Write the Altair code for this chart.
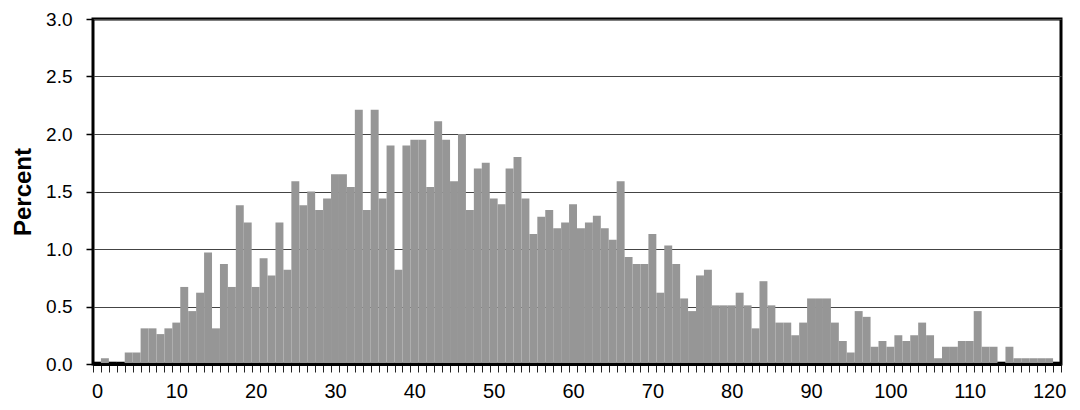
import altair as alt
import pandas as pd

# ---- data ----
bins = list(range(0, 122))
percent = [
    0.02, 0.05, 0.02, 0.02, 0.10, 0.10, 0.31, 0.31, 0.26, 0.31,   # 0-9
    0.36, 0.67, 0.46, 0.62, 0.97, 0.31, 0.87, 0.67, 1.38, 1.23,   # 10-19
    0.67, 0.92, 0.77, 1.23, 0.82, 1.59, 1.38, 1.50, 1.34, 1.44,   # 20-29
    1.65, 1.65, 1.54, 2.21, 1.34, 2.21, 1.44, 1.90, 0.82, 1.90,   # 30-39
    1.95, 1.95, 1.54, 2.11, 1.95, 1.59, 2.00, 1.34, 1.70, 1.75,   # 40-49
    1.44, 1.39, 1.70, 1.80, 1.44, 1.13, 1.28, 1.34, 1.18, 1.23,   # 50-59
    1.39, 1.18, 1.23, 1.29, 1.18, 1.08, 1.59, 0.93, 0.87, 0.87,   # 60-69
    1.13, 0.62, 1.03, 0.87, 0.57, 0.46, 0.77, 0.82, 0.51, 0.51,   # 70-79
    0.51, 0.62, 0.51, 0.31, 0.72, 0.51, 0.36, 0.36, 0.25, 0.36,   # 80-89
    0.57, 0.57, 0.57, 0.36, 0.20, 0.10, 0.46, 0.41, 0.15, 0.20,   # 90-99
    0.15, 0.25, 0.20, 0.25, 0.36, 0.25, 0.05, 0.15, 0.15, 0.20,   # 100-109
    0.20, 0.46, 0.15, 0.15, 0.02, 0.15, 0.05, 0.05, 0.05, 0.05,   # 110-119
    0.05, 0.02,                                                   # 120-121
]
x_label_values = list(range(0, 121, 10))
y_tick_values = [0.0, 0.5, 1.0, 1.5, 2.0, 2.5, 3.0]

df = pd.DataFrame({"bin": bins, "percent": percent})
df["lo"] = df["bin"] - 0.5
df["hi"] = df["bin"] + 0.5
edges = pd.DataFrame({"edge": [b - 0.5 for b in bins] + [bins[-1] + 0.5]})

FONT = "Liberation Sans"
xscale = alt.Scale(domain=[-0.5, 121.5], nice=False, zero=False)
yscale = alt.Scale(domain=[0, 3], nice=False)

bars = alt.Chart(df).mark_rect().encode(
    x=alt.X(
        "lo:Q",
        scale=xscale,
        axis=alt.Axis(
            orient="bottom", values=x_label_values, format="d", title=None,
            ticks=False, tickSize=0, grid=False,
            domain=True, domainColor="black", domainWidth=3, zindex=1,
            labelFont=FONT, labelFontSize=20, labelColor="black",
            labelPadding=17, labelFlush=False,
        ),
    ),
    x2="hi:Q",
    y=alt.Y(
        "percent:Q",
        scale=yscale,
        axis=alt.Axis(
            values=y_tick_values, format=".1f",
            title="Percent", titleFont=FONT, titleFontSize=24,
            titleFontWeight="bold", titleColor="black", titlePadding=10,
            labelFont=FONT, labelFontSize=19, labelColor="black",
            labelPadding=14, tickSize=7, tickColor="black", tickWidth=1.5,
            domain=False, grid=True, gridColor="#444444", gridWidth=1,
        ),
    ),
    color=alt.condition(
        alt.datum.percent <= 0.02, alt.value("black"), alt.value("#969696")
    ),
)

ticks = alt.Chart(edges).mark_point(opacity=0).encode(
    x=alt.X(
        "edge:Q",
        scale=xscale,
        axis=alt.Axis(
            orient="bottom", values=edges["edge"].tolist(), labels=False,
            title=None, domain=False, grid=False,
            ticks=True, tickSize=8, tickColor="#222222", tickWidth=1,
        ),
    ),
)

chart = (
    alt.layer(bars, ticks)
    .resolve_axis(x="independent")
    .properties(
        width=968,
        height=345,
        autosize="none",
        padding={"left": 85, "top": 11, "right": 8, "bottom": 38},
        background="white",
    )
    .configure_view(stroke="black", strokeWidth=3)
)

chart.save("out.html", embed_options={"renderer": "svg", "actions": False})
